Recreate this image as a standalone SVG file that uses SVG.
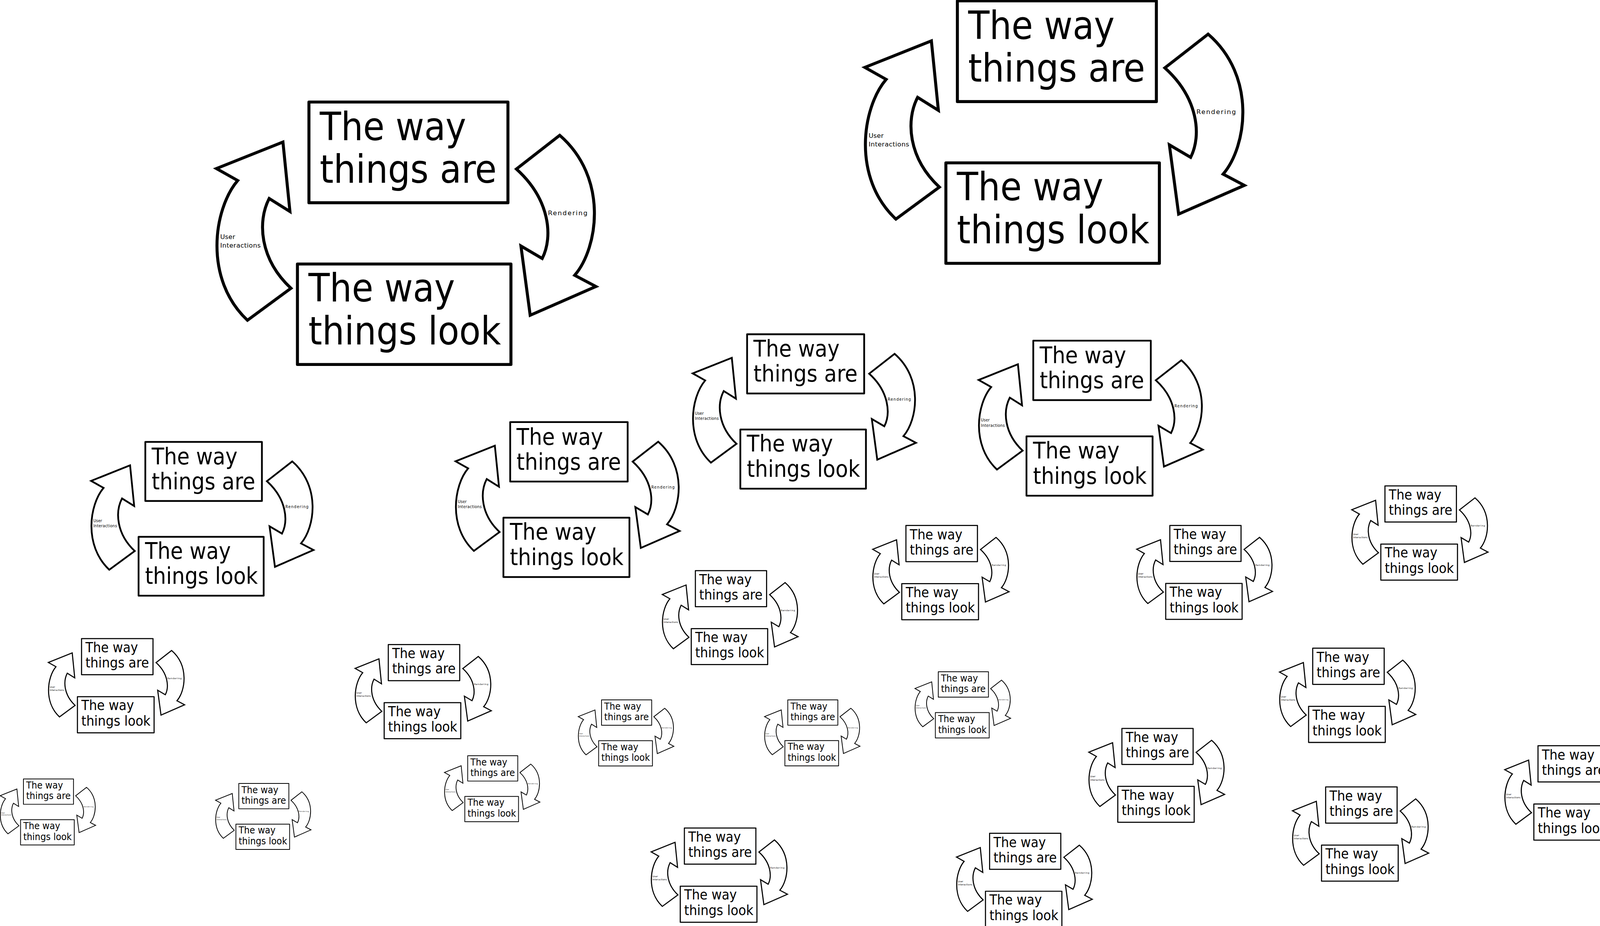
<svg xmlns="http://www.w3.org/2000/svg" xmlns:xlink="http://www.w3.org/1999/xlink" width="4203" height="2371" viewBox="0 0 4203 2371">
<style>
.box{fill:#fff;stroke:#000;stroke-width:12;stroke-linejoin:round}
.arr{fill:#fff;stroke:#000;stroke-width:12;stroke-linejoin:miter;stroke-miterlimit:10}
.t{font-family:"DejaVu Sans Condensed","DejaVu Sans","Liberation Sans",sans-serif;font-stretch:condensed;font-size:155px;fill:#000}
.l{font-family:"DejaVu Sans","Liberation Sans",sans-serif;font-size:26px;fill:#000}
</style>
<defs>
<path id="ui" class="arr" d="M107,566 L22,518 L288,412 L316,690 L233,638 C185,730 195,880 320,997 L146,1125 C-30,960 10,680 107,566 Z"/>
<path id="rd" class="arr" d="M1455,945 L1540,990 L1277,1105 L1240,828 L1325,878 C1370,790 1355,640 1222,520 L1395,385 C1590,554 1550,834 1455,945 Z"/>
</defs>
<rect width="4203" height="2371" fill="#fff"/>

<g id="c1" transform="translate(540 100) scale(0.64)">
<g id="c1-arrows"><use href="#ui" xlink:href="#ui"/><use href="#rd" xlink:href="#rd"/><text class="l" x="37" y="800" textLength="60">User</text><text class="l" x="37" y="835" textLength="162">Interactions</text><text class="l" x="1348" y="704" textLength="158">Rendering</text></g>
<g id="c1-are"><rect class="box" x="392" y="252" width="796" height="403"/><text class="t" x="435" y="405" textLength="586" lengthAdjust="spacingAndGlyphs">The way</text><text class="t" x="435" y="575" textLength="708" lengthAdjust="spacingAndGlyphs">things are</text></g>
<g id="c1-look"><rect class="box" x="346" y="900" width="854" height="402"/><text class="t" x="390" y="1050" textLength="586" lengthAdjust="spacingAndGlyphs">The way</text><text class="t" x="390" y="1222" textLength="770" lengthAdjust="spacingAndGlyphs">things look</text></g>
</g>

<g id="c2" transform="translate(2200 -159) scale(0.64)">
<g id="c2-arrows"><use href="#ui" xlink:href="#ui"/><use href="#rd" xlink:href="#rd"/><text class="l" x="37" y="800" textLength="60">User</text><text class="l" x="37" y="835" textLength="162">Interactions</text><text class="l" x="1348" y="704" textLength="158">Rendering</text></g>
<g id="c2-are"><rect class="box" x="392" y="252" width="796" height="403"/><text class="t" x="435" y="405" textLength="586" lengthAdjust="spacingAndGlyphs">The way</text><text class="t" x="435" y="575" textLength="708" lengthAdjust="spacingAndGlyphs">things are</text></g>
<g id="c2-look"><rect class="box" x="346" y="900" width="854" height="402"/><text class="t" x="390" y="1050" textLength="586" lengthAdjust="spacingAndGlyphs">The way</text><text class="t" x="390" y="1222" textLength="770" lengthAdjust="spacingAndGlyphs">things look</text></g>
</g>

<g id="c3" transform="translate(1765 761) scale(0.3765)">
<g id="c3-arrows"><use href="#ui" xlink:href="#ui"/><use href="#rd" xlink:href="#rd"/><text class="l" x="37" y="800" textLength="60">User</text><text class="l" x="37" y="835" textLength="162">Interactions</text><text class="l" x="1348" y="704" textLength="158">Rendering</text></g>
<g id="c3-are"><rect class="box" x="392" y="252" width="796" height="403"/><text class="t" x="435" y="405" textLength="586" lengthAdjust="spacingAndGlyphs">The way</text><text class="t" x="435" y="575" textLength="708" lengthAdjust="spacingAndGlyphs">things are</text></g>
<g id="c3-look"><rect class="box" x="346" y="900" width="854" height="402"/><text class="t" x="390" y="1050" textLength="586" lengthAdjust="spacingAndGlyphs">The way</text><text class="t" x="390" y="1222" textLength="770" lengthAdjust="spacingAndGlyphs">things look</text></g>
</g>

<g id="c4" transform="translate(2497 777) scale(0.378)">
<g id="c4-arrows"><use href="#ui" xlink:href="#ui"/><use href="#rd" xlink:href="#rd"/><text class="l" x="37" y="800" textLength="60">User</text><text class="l" x="37" y="835" textLength="162">Interactions</text><text class="l" x="1348" y="704" textLength="158">Rendering</text></g>
<g id="c4-are"><rect class="box" x="392" y="252" width="796" height="403"/><text class="t" x="435" y="405" textLength="586" lengthAdjust="spacingAndGlyphs">The way</text><text class="t" x="435" y="575" textLength="708" lengthAdjust="spacingAndGlyphs">things are</text></g>
<g id="c4-look"><rect class="box" x="346" y="900" width="854" height="402"/><text class="t" x="390" y="1050" textLength="586" lengthAdjust="spacingAndGlyphs">The way</text><text class="t" x="390" y="1222" textLength="770" lengthAdjust="spacingAndGlyphs">things look</text></g>
</g>

<g id="c5" transform="translate(1158 985.5) scale(0.3778)">
<g id="c5-arrows"><use href="#ui" xlink:href="#ui"/><use href="#rd" xlink:href="#rd"/><text class="l" x="37" y="800" textLength="60">User</text><text class="l" x="37" y="835" textLength="162">Interactions</text><text class="l" x="1348" y="704" textLength="158">Rendering</text></g>
<g id="c5-are"><rect class="box" x="392" y="252" width="796" height="403"/><text class="t" x="435" y="405" textLength="586" lengthAdjust="spacingAndGlyphs">The way</text><text class="t" x="435" y="575" textLength="708" lengthAdjust="spacingAndGlyphs">things are</text></g>
<g id="c5-look"><rect class="box" x="346" y="900" width="854" height="402"/><text class="t" x="390" y="1050" textLength="586" lengthAdjust="spacingAndGlyphs">The way</text><text class="t" x="390" y="1222" textLength="770" lengthAdjust="spacingAndGlyphs">things look</text></g>
</g>

<g id="c6" transform="translate(225 1037) scale(0.375)">
<g id="c6-arrows"><use href="#ui" xlink:href="#ui"/><use href="#rd" xlink:href="#rd"/><text class="l" x="37" y="800" textLength="60">User</text><text class="l" x="37" y="835" textLength="162">Interactions</text><text class="l" x="1348" y="704" textLength="158">Rendering</text></g>
<g id="c6-are"><rect class="box" x="392" y="252" width="796" height="403"/><text class="t" x="435" y="405" textLength="586" lengthAdjust="spacingAndGlyphs">The way</text><text class="t" x="435" y="575" textLength="708" lengthAdjust="spacingAndGlyphs">things are</text></g>
<g id="c6-look"><rect class="box" x="346" y="900" width="854" height="402"/><text class="t" x="390" y="1050" textLength="586" lengthAdjust="spacingAndGlyphs">The way</text><text class="t" x="390" y="1222" textLength="770" lengthAdjust="spacingAndGlyphs">things look</text></g>
</g>

<g id="c7" transform="translate(2229 1287.4) scale(0.23)">
<g id="c7-arrows"><use href="#ui" xlink:href="#ui"/><use href="#rd" xlink:href="#rd"/><text class="l" x="37" y="800" textLength="60">User</text><text class="l" x="37" y="835" textLength="162">Interactions</text><text class="l" x="1348" y="704" textLength="158">Rendering</text></g>
<g id="c7-are"><rect class="box" x="392" y="252" width="796" height="403"/><text class="t" x="435" y="405" textLength="586" lengthAdjust="spacingAndGlyphs">The way</text><text class="t" x="435" y="575" textLength="708" lengthAdjust="spacingAndGlyphs">things are</text></g>
<g id="c7-look"><rect class="box" x="346" y="900" width="854" height="402"/><text class="t" x="390" y="1050" textLength="586" lengthAdjust="spacingAndGlyphs">The way</text><text class="t" x="390" y="1222" textLength="770" lengthAdjust="spacingAndGlyphs">things look</text></g>
</g>

<g id="c8" transform="translate(2905 1287.7) scale(0.229)">
<g id="c8-arrows"><use href="#ui" xlink:href="#ui"/><use href="#rd" xlink:href="#rd"/><text class="l" x="37" y="800" textLength="60">User</text><text class="l" x="37" y="835" textLength="162">Interactions</text><text class="l" x="1348" y="704" textLength="158">Rendering</text></g>
<g id="c8-are"><rect class="box" x="392" y="252" width="796" height="403"/><text class="t" x="435" y="405" textLength="586" lengthAdjust="spacingAndGlyphs">The way</text><text class="t" x="435" y="575" textLength="708" lengthAdjust="spacingAndGlyphs">things are</text></g>
<g id="c8-look"><rect class="box" x="346" y="900" width="854" height="402"/><text class="t" x="390" y="1050" textLength="586" lengthAdjust="spacingAndGlyphs">The way</text><text class="t" x="390" y="1222" textLength="770" lengthAdjust="spacingAndGlyphs">things look</text></g>
</g>

<g id="c9" transform="translate(3455.4 1186.2) scale(0.2298)">
<g id="c9-arrows"><use href="#ui" xlink:href="#ui"/><use href="#rd" xlink:href="#rd"/><text class="l" x="37" y="800" textLength="60">User</text><text class="l" x="37" y="835" textLength="162">Interactions</text><text class="l" x="1348" y="704" textLength="158">Rendering</text></g>
<g id="c9-are"><rect class="box" x="392" y="252" width="796" height="403"/><text class="t" x="435" y="405" textLength="586" lengthAdjust="spacingAndGlyphs">The way</text><text class="t" x="435" y="575" textLength="708" lengthAdjust="spacingAndGlyphs">things are</text></g>
<g id="c9-look"><rect class="box" x="346" y="900" width="854" height="402"/><text class="t" x="390" y="1050" textLength="586" lengthAdjust="spacingAndGlyphs">The way</text><text class="t" x="390" y="1222" textLength="770" lengthAdjust="spacingAndGlyphs">things look</text></g>
</g>

<g id="c10" transform="translate(1690.4 1403.5) scale(0.229)">
<g id="c10-arrows"><use href="#ui" xlink:href="#ui"/><use href="#rd" xlink:href="#rd"/><text class="l" x="37" y="800" textLength="60">User</text><text class="l" x="37" y="835" textLength="162">Interactions</text><text class="l" x="1348" y="704" textLength="158">Rendering</text></g>
<g id="c10-are"><rect class="box" x="392" y="252" width="796" height="403"/><text class="t" x="435" y="405" textLength="586" lengthAdjust="spacingAndGlyphs">The way</text><text class="t" x="435" y="575" textLength="708" lengthAdjust="spacingAndGlyphs">things are</text></g>
<g id="c10-look"><rect class="box" x="346" y="900" width="854" height="402"/><text class="t" x="390" y="1050" textLength="586" lengthAdjust="spacingAndGlyphs">The way</text><text class="t" x="390" y="1222" textLength="770" lengthAdjust="spacingAndGlyphs">things look</text></g>
</g>

<g id="c11" transform="translate(118.7 1577.1) scale(0.2298)">
<g id="c11-arrows"><use href="#ui" xlink:href="#ui"/><use href="#rd" xlink:href="#rd"/><text class="l" x="37" y="800" textLength="60">User</text><text class="l" x="37" y="835" textLength="162">Interactions</text><text class="l" x="1348" y="704" textLength="158">Rendering</text></g>
<g id="c11-are"><rect class="box" x="392" y="252" width="796" height="403"/><text class="t" x="435" y="405" textLength="586" lengthAdjust="spacingAndGlyphs">The way</text><text class="t" x="435" y="575" textLength="708" lengthAdjust="spacingAndGlyphs">things are</text></g>
<g id="c11-look"><rect class="box" x="346" y="900" width="854" height="402"/><text class="t" x="390" y="1050" textLength="586" lengthAdjust="spacingAndGlyphs">The way</text><text class="t" x="390" y="1222" textLength="770" lengthAdjust="spacingAndGlyphs">things look</text></g>
</g>

<g id="c12" transform="translate(904 1592.4) scale(0.2297)">
<g id="c12-arrows"><use href="#ui" xlink:href="#ui"/><use href="#rd" xlink:href="#rd"/><text class="l" x="37" y="800" textLength="60">User</text><text class="l" x="37" y="835" textLength="162">Interactions</text><text class="l" x="1348" y="704" textLength="158">Rendering</text></g>
<g id="c12-are"><rect class="box" x="392" y="252" width="796" height="403"/><text class="t" x="435" y="405" textLength="586" lengthAdjust="spacingAndGlyphs">The way</text><text class="t" x="435" y="575" textLength="708" lengthAdjust="spacingAndGlyphs">things are</text></g>
<g id="c12-look"><rect class="box" x="346" y="900" width="854" height="402"/><text class="t" x="390" y="1050" textLength="586" lengthAdjust="spacingAndGlyphs">The way</text><text class="t" x="390" y="1222" textLength="770" lengthAdjust="spacingAndGlyphs">things look</text></g>
</g>

<g id="c13" transform="translate(3270.5 1601.8) scale(0.2298)">
<g id="c13-arrows"><use href="#ui" xlink:href="#ui"/><use href="#rd" xlink:href="#rd"/><text class="l" x="37" y="800" textLength="60">User</text><text class="l" x="37" y="835" textLength="162">Interactions</text><text class="l" x="1348" y="704" textLength="158">Rendering</text></g>
<g id="c13-are"><rect class="box" x="392" y="252" width="796" height="403"/><text class="t" x="435" y="405" textLength="586" lengthAdjust="spacingAndGlyphs">The way</text><text class="t" x="435" y="575" textLength="708" lengthAdjust="spacingAndGlyphs">things are</text></g>
<g id="c13-look"><rect class="box" x="346" y="900" width="854" height="402"/><text class="t" x="390" y="1050" textLength="586" lengthAdjust="spacingAndGlyphs">The way</text><text class="t" x="390" y="1222" textLength="770" lengthAdjust="spacingAndGlyphs">things look</text></g>
</g>

<g id="c14" transform="translate(2782.3 1807.3) scale(0.229)">
<g id="c14-arrows"><use href="#ui" xlink:href="#ui"/><use href="#rd" xlink:href="#rd"/><text class="l" x="37" y="800" textLength="60">User</text><text class="l" x="37" y="835" textLength="162">Interactions</text><text class="l" x="1348" y="704" textLength="158">Rendering</text></g>
<g id="c14-are"><rect class="box" x="392" y="252" width="796" height="403"/><text class="t" x="435" y="405" textLength="586" lengthAdjust="spacingAndGlyphs">The way</text><text class="t" x="435" y="575" textLength="708" lengthAdjust="spacingAndGlyphs">things are</text></g>
<g id="c14-look"><rect class="box" x="346" y="900" width="854" height="402"/><text class="t" x="390" y="1050" textLength="586" lengthAdjust="spacingAndGlyphs">The way</text><text class="t" x="390" y="1222" textLength="770" lengthAdjust="spacingAndGlyphs">things look</text></g>
</g>

<g id="c15" transform="translate(3847 1851.3) scale(0.2303)">
<g id="c15-arrows"><use href="#ui" xlink:href="#ui"/><use href="#rd" xlink:href="#rd"/><text class="l" x="37" y="800" textLength="60">User</text><text class="l" x="37" y="835" textLength="162">Interactions</text><text class="l" x="1348" y="704" textLength="158">Rendering</text></g>
<g id="c15-are"><rect class="box" x="392" y="252" width="796" height="403"/><text class="t" x="435" y="405" textLength="586" lengthAdjust="spacingAndGlyphs">The way</text><text class="t" x="435" y="575" textLength="708" lengthAdjust="spacingAndGlyphs">things are</text></g>
<g id="c15-look"><rect class="box" x="346" y="900" width="854" height="402"/><text class="t" x="390" y="1050" textLength="586" lengthAdjust="spacingAndGlyphs">The way</text><text class="t" x="390" y="1222" textLength="770" lengthAdjust="spacingAndGlyphs">things look</text></g>
</g>

<g id="c16" transform="translate(3303.6 1957) scale(0.2298)">
<g id="c16-arrows"><use href="#ui" xlink:href="#ui"/><use href="#rd" xlink:href="#rd"/><text class="l" x="37" y="800" textLength="60">User</text><text class="l" x="37" y="835" textLength="162">Interactions</text><text class="l" x="1348" y="704" textLength="158">Rendering</text></g>
<g id="c16-are"><rect class="box" x="392" y="252" width="796" height="403"/><text class="t" x="435" y="405" textLength="586" lengthAdjust="spacingAndGlyphs">The way</text><text class="t" x="435" y="575" textLength="708" lengthAdjust="spacingAndGlyphs">things are</text></g>
<g id="c16-look"><rect class="box" x="346" y="900" width="854" height="402"/><text class="t" x="390" y="1050" textLength="586" lengthAdjust="spacingAndGlyphs">The way</text><text class="t" x="390" y="1222" textLength="770" lengthAdjust="spacingAndGlyphs">things look</text></g>
</g>

<g id="c17" transform="translate(2443.6 2075.9) scale(0.229)">
<g id="c17-arrows"><use href="#ui" xlink:href="#ui"/><use href="#rd" xlink:href="#rd"/><text class="l" x="37" y="800" textLength="60">User</text><text class="l" x="37" y="835" textLength="162">Interactions</text><text class="l" x="1348" y="704" textLength="158">Rendering</text></g>
<g id="c17-are"><rect class="box" x="392" y="252" width="796" height="403"/><text class="t" x="435" y="405" textLength="586" lengthAdjust="spacingAndGlyphs">The way</text><text class="t" x="435" y="575" textLength="708" lengthAdjust="spacingAndGlyphs">things are</text></g>
<g id="c17-look"><rect class="box" x="346" y="900" width="854" height="402"/><text class="t" x="390" y="1050" textLength="586" lengthAdjust="spacingAndGlyphs">The way</text><text class="t" x="390" y="1222" textLength="770" lengthAdjust="spacingAndGlyphs">things look</text></g>
</g>

<g id="c18" transform="translate(1661.9 2062.1) scale(0.2299)">
<g id="c18-arrows"><use href="#ui" xlink:href="#ui"/><use href="#rd" xlink:href="#rd"/><text class="l" x="37" y="800" textLength="60">User</text><text class="l" x="37" y="835" textLength="162">Interactions</text><text class="l" x="1348" y="704" textLength="158">Rendering</text></g>
<g id="c18-are"><rect class="box" x="392" y="252" width="796" height="403"/><text class="t" x="435" y="405" textLength="586" lengthAdjust="spacingAndGlyphs">The way</text><text class="t" x="435" y="575" textLength="708" lengthAdjust="spacingAndGlyphs">things are</text></g>
<g id="c18-look"><rect class="box" x="346" y="900" width="854" height="402"/><text class="t" x="390" y="1050" textLength="586" lengthAdjust="spacingAndGlyphs">The way</text><text class="t" x="390" y="1222" textLength="770" lengthAdjust="spacingAndGlyphs">things look</text></g>
</g>

<g id="c19" transform="translate(1476.7 1751.3) scale(0.1613)">
<g id="c19-arrows"><use href="#ui" xlink:href="#ui"/><use href="#rd" xlink:href="#rd"/><text class="l" x="37" y="800" textLength="60">User</text><text class="l" x="37" y="835" textLength="162">Interactions</text><text class="l" x="1348" y="704" textLength="158">Rendering</text></g>
<g id="c19-are"><rect class="box" x="392" y="252" width="796" height="403"/><text class="t" x="435" y="405" textLength="586" lengthAdjust="spacingAndGlyphs">The way</text><text class="t" x="435" y="575" textLength="708" lengthAdjust="spacingAndGlyphs">things are</text></g>
<g id="c19-look"><rect class="box" x="346" y="900" width="854" height="402"/><text class="t" x="390" y="1050" textLength="586" lengthAdjust="spacingAndGlyphs">The way</text><text class="t" x="390" y="1222" textLength="770" lengthAdjust="spacingAndGlyphs">things look</text></g>
</g>

<g id="c20" transform="translate(1953.6 1751.4) scale(0.161)">
<g id="c20-arrows"><use href="#ui" xlink:href="#ui"/><use href="#rd" xlink:href="#rd"/><text class="l" x="37" y="800" textLength="60">User</text><text class="l" x="37" y="835" textLength="162">Interactions</text><text class="l" x="1348" y="704" textLength="158">Rendering</text></g>
<g id="c20-are"><rect class="box" x="392" y="252" width="796" height="403"/><text class="t" x="435" y="405" textLength="586" lengthAdjust="spacingAndGlyphs">The way</text><text class="t" x="435" y="575" textLength="708" lengthAdjust="spacingAndGlyphs">things are</text></g>
<g id="c20-look"><rect class="box" x="346" y="900" width="854" height="402"/><text class="t" x="390" y="1050" textLength="586" lengthAdjust="spacingAndGlyphs">The way</text><text class="t" x="390" y="1222" textLength="770" lengthAdjust="spacingAndGlyphs">things look</text></g>
</g>

<g id="c21" transform="translate(2338.7 1679.3) scale(0.1614)">
<g id="c21-arrows"><use href="#ui" xlink:href="#ui"/><use href="#rd" xlink:href="#rd"/><text class="l" x="37" y="800" textLength="60">User</text><text class="l" x="37" y="835" textLength="162">Interactions</text><text class="l" x="1348" y="704" textLength="158">Rendering</text></g>
<g id="c21-are"><rect class="box" x="392" y="252" width="796" height="403"/><text class="t" x="435" y="405" textLength="586" lengthAdjust="spacingAndGlyphs">The way</text><text class="t" x="435" y="575" textLength="708" lengthAdjust="spacingAndGlyphs">things are</text></g>
<g id="c21-look"><rect class="box" x="346" y="900" width="854" height="402"/><text class="t" x="390" y="1050" textLength="586" lengthAdjust="spacingAndGlyphs">The way</text><text class="t" x="390" y="1222" textLength="770" lengthAdjust="spacingAndGlyphs">things look</text></g>
</g>

<g id="c22" transform="translate(1134.2 1894.4) scale(0.161)">
<g id="c22-arrows"><use href="#ui" xlink:href="#ui"/><use href="#rd" xlink:href="#rd"/><text class="l" x="37" y="800" textLength="60">User</text><text class="l" x="37" y="835" textLength="162">Interactions</text><text class="l" x="1348" y="704" textLength="158">Rendering</text></g>
<g id="c22-are"><rect class="box" x="392" y="252" width="796" height="403"/><text class="t" x="435" y="405" textLength="586" lengthAdjust="spacingAndGlyphs">The way</text><text class="t" x="435" y="575" textLength="708" lengthAdjust="spacingAndGlyphs">things are</text></g>
<g id="c22-look"><rect class="box" x="346" y="900" width="854" height="402"/><text class="t" x="390" y="1050" textLength="586" lengthAdjust="spacingAndGlyphs">The way</text><text class="t" x="390" y="1222" textLength="770" lengthAdjust="spacingAndGlyphs">things look</text></g>
</g>

<g id="c23" transform="translate(-3.1 1953.9) scale(0.161)">
<g id="c23-arrows"><use href="#ui" xlink:href="#ui"/><use href="#rd" xlink:href="#rd"/><text class="l" x="37" y="800" textLength="60">User</text><text class="l" x="37" y="835" textLength="162">Interactions</text><text class="l" x="1348" y="704" textLength="158">Rendering</text></g>
<g id="c23-are"><rect class="box" x="392" y="252" width="796" height="403"/><text class="t" x="435" y="405" textLength="586" lengthAdjust="spacingAndGlyphs">The way</text><text class="t" x="435" y="575" textLength="708" lengthAdjust="spacingAndGlyphs">things are</text></g>
<g id="c23-look"><rect class="box" x="346" y="900" width="854" height="402"/><text class="t" x="390" y="1050" textLength="586" lengthAdjust="spacingAndGlyphs">The way</text><text class="t" x="390" y="1222" textLength="770" lengthAdjust="spacingAndGlyphs">things look</text></g>
</g>

<g id="c24" transform="translate(548.2 1965.4) scale(0.161)">
<g id="c24-arrows"><use href="#ui" xlink:href="#ui"/><use href="#rd" xlink:href="#rd"/><text class="l" x="37" y="800" textLength="60">User</text><text class="l" x="37" y="835" textLength="162">Interactions</text><text class="l" x="1348" y="704" textLength="158">Rendering</text></g>
<g id="c24-are"><rect class="box" x="392" y="252" width="796" height="403"/><text class="t" x="435" y="405" textLength="586" lengthAdjust="spacingAndGlyphs">The way</text><text class="t" x="435" y="575" textLength="708" lengthAdjust="spacingAndGlyphs">things are</text></g>
<g id="c24-look"><rect class="box" x="346" y="900" width="854" height="402"/><text class="t" x="390" y="1050" textLength="586" lengthAdjust="spacingAndGlyphs">The way</text><text class="t" x="390" y="1222" textLength="770" lengthAdjust="spacingAndGlyphs">things look</text></g>
</g>
</svg>
